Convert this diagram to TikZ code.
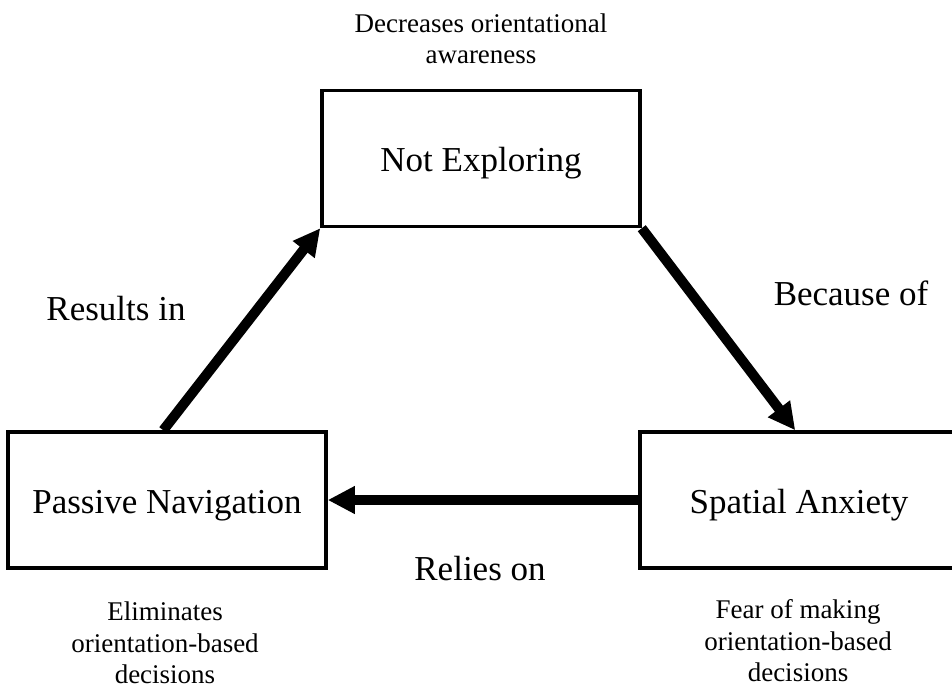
\documentclass[tikz,border=0pt]{standalone}
\usepackage{fontspec}
\setmainfont{Liberation Serif}
\usetikzlibrary{arrows.meta}
\begin{document}
\begin{tikzpicture}[x=1pt, y=-1pt,
  stage/.style={draw=black, line width=3.5pt, minimum width=318pt, minimum height=136pt,
    inner sep=0pt, text height=26pt, text depth=0pt, font=\fontsize{35}{42}\selectfont},
  flow/.style={draw=black, line width=10pt, -{Triangle[length=27pt, width=26pt]}},
  edgelabel/.style={inner sep=0pt, anchor=base, font=\fontsize{35}{42}\selectfont},
  note/.style={inner sep=0pt, align=center, font=\fontsize{27}{31.5}\selectfont}]
\useasboundingbox (0,0) rectangle (952,689);

% the three stages of the cycle
\node[stage] (ne) at (481,158.5) {Not Exploring};
\node[stage] (pn) at (167,500) {Passive Navigation};
\node[stage] (sa) at (799,500) {Spatial Anxiety};

% descriptions beside each stage
\node[note] (nedesc) at (481,39) {Decreases orientational\\awareness};
\node[note] (pndesc) at (165,643) {Eliminates\\orientation-based\\decisions};
\node[note] (sadesc) at (798,641) {Fear of making\\orientation-based\\decisions};

% connectors between the stages
\draw[flow] ([xshift=157pt]pn.north west) -- (ne.south west);
\draw[flow] (ne.south east) -- ([xshift=157pt]sa.north west);
\draw[flow] (sa.west) -- (pn.east);

% connector labels
\node[edgelabel] (lres) at (116,320) {Results in};
\node[edgelabel] (lbec) at (851,305) {Because of};
\node[edgelabel] (lrel) at (480,580) {Relies on};
\end{tikzpicture}
\end{document}
